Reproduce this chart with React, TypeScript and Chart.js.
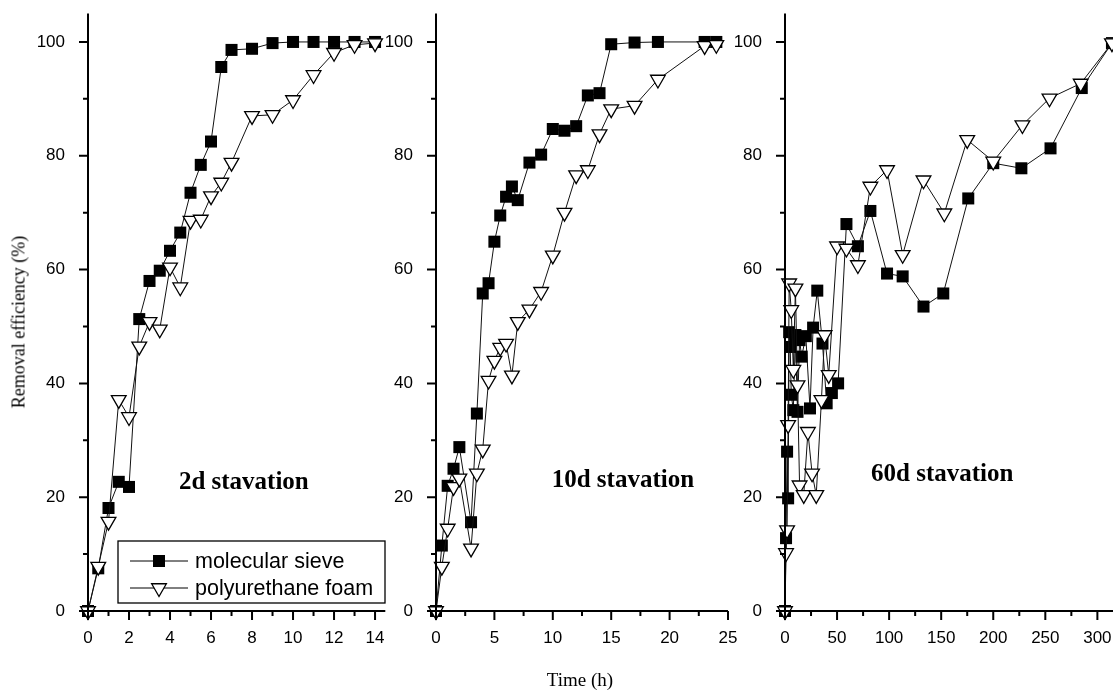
import React, { useEffect, useRef } from "react";
import { Chart, registerables } from "chart.js";

Chart.register(...registerables);

// ---------------- data ----------------
const SERIES_NAMES = ["molecular sieve", "polyurethane foam"];
const PANEL_TITLES = ["2d stavation", "10d stavation", "60d stavation"];

const TIME_2D = [0, 0.5, 1, 1.5, 2, 2.5, 3, 3.5, 4, 4.5, 5, 5.5, 6, 6.5, 7, 8, 9, 10, 11, 12, 13, 14];
const SIEVE_2D = [0, 7.5, 18.1, 22.7, 21.8, 51.3, 58.0, 59.8, 63.3, 66.5, 73.5, 78.4, 82.5, 95.6, 98.6, 98.8, 99.8, 100, 100, 100, 100, 100];
const FOAM_2D = [0, 7.8, 15.7, 37.1, 34.1, 46.5, 50.8, 49.5, 60.4, 56.9, 68.6, 68.8, 72.9, 75.3, 78.8, 87.0, 87.2, 89.8, 94.2, 98.1, 99.5, 99.8];

const TIME_10D = [0, 0.5, 1, 1.5, 2, 3, 3.5, 4, 4.5, 5, 5.5, 6, 6.5, 7, 8, 9, 10, 11, 12, 13, 14, 15, 17, 19, 23, 24];
const SIEVE_10D = [0, 11.5, 22.0, 25.0, 28.8, 15.6, 34.7, 55.8, 57.6, 64.9, 69.5, 72.8, 74.6, 72.2, 78.8, 80.2, 84.7, 84.4, 85.2, 90.6, 91.0, 99.6, 99.9, 100, 100, 100];
const FOAM_10D = [0, 7.8, 14.5, 21.8, 23.3, 11.0, 24.2, 28.4, 40.5, 44.0, 46.3, 47.0, 41.4, 50.8, 53.0, 56.1, 62.5, 70.0, 76.6, 77.5, 83.8, 88.2, 88.8, 93.4, 99.3, 99.5];

const TIME_60D_SIEVE = [0, 1, 2, 3, 4, 5, 6, 8, 10, 12, 14, 16, 20, 24, 27, 31, 36, 40, 45, 51, 59, 70, 82, 98, 113, 133, 152, 176, 200, 227, 255, 285, 314];
const SIEVE_60D = [0, 12.8, 28.0, 19.8, 49.0, 46.4, 38.0, 35.3, 48.5, 35.0, 47.6, 44.7, 48.3, 35.6, 49.8, 56.3, 47.0, 36.5, 38.3, 40.0, 68.0, 64.1, 70.3, 59.3, 58.8, 53.5, 55.8, 72.5, 78.7, 77.8, 81.3, 91.9, 99.8];
const TIME_60D_FOAM = [0, 1, 2, 3, 4, 6, 8, 10, 12, 14, 18, 22, 26, 30, 35, 38, 42, 50, 59, 70, 82, 98, 113, 133, 153, 175, 200, 228, 254, 284, 314];
const FOAM_60D = [0, 10.2, 14.2, 32.7, 57.6, 52.9, 42.4, 56.7, 39.7, 22.1, 20.4, 31.5, 24.2, 20.4, 37.1, 48.5, 41.5, 64.1, 63.7, 60.8, 74.6, 77.5, 62.6, 75.7, 69.9, 82.8, 79.0, 85.4, 90.1, 92.7, 99.8];

const Y_TICKS = [0, 20, 40, 60, 80, 100];
const Y_MINOR = [10, 30, 50, 70, 90];
const X_TICKS_2D = [0, 2, 4, 6, 8, 10, 12, 14];
const X_MINOR_2D = [1, 3, 5, 7, 9, 11, 13];
const X_TICKS_10D = [0, 5, 10, 15, 20, 25];
const X_MINOR_10D = [2.5, 7.5, 12.5, 17.5, 22.5];
const X_TICKS_60D = [0, 50, 100, 150, 200, 250, 300];
const X_MINOR_60D = [25, 75, 125, 175, 225, 275];

// ---------------- panel layout ----------------
const CANVAS_H = 691;
const PANELS = [
  {
    left: 0, width: 400, yW: 88, padRight: 14.7, xMax: 14.5,
    sieveT: TIME_2D, sieve: SIEVE_2D, foamT: TIME_2D, foam: FOAM_2D,
    xTicks: X_TICKS_2D, xMinor: X_MINOR_2D, title: PANEL_TITLES[0], titleAt: [7.6, 22.5], legend: true,
  },
  {
    left: 380, width: 360, yW: 56, padRight: 12, xMax: 25,
    sieveT: TIME_10D, sieve: SIEVE_10D, foamT: TIME_10D, foam: FOAM_10D,
    xTicks: X_TICKS_10D, xMinor: X_MINOR_10D, title: PANEL_TITLES[1], titleAt: [16.0, 23], legend: false,
  },
  {
    left: 730, width: 395, yW: 55, padRight: 12, xMax: 315,
    sieveT: TIME_60D_SIEVE, sieve: SIEVE_60D, foamT: TIME_60D_FOAM, foam: FOAM_60D,
    xTicks: X_TICKS_60D, xMinor: X_MINOR_60D, title: PANEL_TITLES[2], titleAt: [151, 24], legend: false,
  },
];

const TICK_FONT = { family: '"Liberation Sans", Arial, sans-serif', size: 17 };

function drawTriangle(ctx: CanvasRenderingContext2D, cx: number, cy: number, r: number) {
  const w = r * Math.sin(Math.PI / 3);
  ctx.beginPath();
  ctx.moveTo(cx - w, cy - r / 2);
  ctx.lineTo(cx + w, cy - r / 2);
  ctx.lineTo(cx, cy + r);
  ctx.closePath();
  ctx.fillStyle = "#fff";
  ctx.fill();
  ctx.lineWidth = 1.3;
  ctx.strokeStyle = "#000";
  ctx.stroke();
}

function makeDecor(p: any) {
  return {
    id: "decor",
    afterDatasetsDraw(chart: any) {
      const { ctx, chartArea: ca } = chart;
      const xs = chart.scales.x;
      const ys = chart.scales.y;
      ctx.save();
      ctx.strokeStyle = "#000";
      ctx.lineWidth = 2;
      ctx.beginPath();
      ctx.moveTo(ca.left, ca.top);
      ctx.lineTo(ca.left, ca.bottom + 1);
      ctx.moveTo(ca.left - 1, ca.bottom);
      ctx.lineTo(ca.right, ca.bottom);
      for (const v of p.xTicks) {
        const px = xs.getPixelForValue(v);
        ctx.moveTo(px, ca.bottom);
        ctx.lineTo(px, ca.bottom + 9);
      }
      for (const v of p.xMinor) {
        const px = xs.getPixelForValue(v);
        ctx.moveTo(px, ca.bottom);
        ctx.lineTo(px, ca.bottom + 5);
      }
      for (const v of Y_TICKS) {
        const py = ys.getPixelForValue(v);
        ctx.moveTo(ca.left, py);
        ctx.lineTo(ca.left - 9, py);
      }
      for (const v of Y_MINOR) {
        const py = ys.getPixelForValue(v);
        ctx.moveTo(ca.left, py);
        ctx.lineTo(ca.left - 5, py);
      }
      ctx.stroke();

      // panel title
      ctx.fillStyle = "#000";
      ctx.font = 'bold 25px "Liberation Serif", "Times New Roman", serif';
      ctx.textAlign = "center";
      ctx.textBaseline = "middle";
      ctx.fillText(p.title, xs.getPixelForValue(p.titleAt[0]), ys.getPixelForValue(p.titleAt[1]));

      // legend
      if (p.legend) {
        const lx = ca.left + 30;
        const ly = ca.bottom - 70;
        const lw = 267;
        const lh = 62;
        ctx.fillStyle = "#fff";
        ctx.fillRect(lx, ly, lw, lh);
        ctx.lineWidth = 1.3;
        ctx.strokeStyle = "#000";
        ctx.strokeRect(lx, ly, lw, lh);
        const rows = [ly + 20, ly + 47];
        rows.forEach((ry, i) => {
          ctx.beginPath();
          ctx.lineWidth = 1;
          ctx.moveTo(lx + 12, ry);
          ctx.lineTo(lx + 70, ry);
          ctx.stroke();
          const cx = lx + 41;
          if (i === 0) {
            ctx.fillStyle = "#000";
            ctx.fillRect(cx - 6, ry - 6, 12, 12);
          } else {
            drawTriangle(ctx, cx, ry, 8.5);
          }
          ctx.fillStyle = "#000";
          ctx.font = '21.5px "Liberation Sans", Arial, sans-serif';
          ctx.textAlign = "left";
          ctx.textBaseline = "middle";
          ctx.fillText(SERIES_NAMES[i], lx + 77, ry + 1);
        });
      }
      ctx.restore();
    },
  };
}

function Panel({ p }: { p: any }) {
  const ref = useRef<HTMLCanvasElement | null>(null);
  useEffect(() => {
    if (!ref.current) return;
    const chart = new Chart(ref.current, {
      type: "line",
      data: {
        datasets: [
          {
            label: SERIES_NAMES[1],
            data: p.foamT.map((t: number, i: number) => ({ x: t, y: p.foam[i] })),
            borderColor: "#111",
            borderWidth: 1,
            pointStyle: "triangle",
            rotation: 180,
            pointRadius: 8.5,
            pointBackgroundColor: "#fff",
            pointBorderColor: "#000",
            pointBorderWidth: 1.3,
            tension: 0,
            clip: false,
          } as any,
          {
            label: SERIES_NAMES[0],
            data: p.sieveT.map((t: number, i: number) => ({ x: t, y: p.sieve[i] })),
            borderColor: "#111",
            borderWidth: 1,
            pointStyle: "rect",
            pointRadius: 8.5,
            pointBackgroundColor: "#000",
            pointBorderColor: "#000",
            pointBorderWidth: 0,
            tension: 0,
            clip: false,
          } as any,
        ],
      },
      options: {
        responsive: false,
        animation: false,
        events: [],
        layout: { padding: { left: 0, right: p.padRight, top: 13.5, bottom: 40 } },
        plugins: { legend: { display: false }, tooltip: { enabled: false } },
        scales: {
          x: {
            type: "linear",
            min: 0,
            max: p.xMax,
            grid: { display: false },
            border: { display: false },
            ticks: { font: TICK_FONT, color: "#000", padding: 9, autoSkip: false, maxRotation: 0 },
            afterBuildTicks: (s: any) => {
              s.ticks = p.xTicks.map((v: number) => ({ value: v }));
            },
            afterFit: (s: any) => {
              s.height = 40;
              s.paddingLeft = 0;
              s.paddingRight = 0;
              s.paddingTop = 0;
              s.paddingBottom = 0;
            },
          },
          y: {
            type: "linear",
            min: 0,
            max: 105,
            grid: { display: false },
            border: { display: false },
            ticks: { font: TICK_FONT, color: "#000", padding: 15, autoSkip: false },
            afterBuildTicks: (s: any) => {
              s.ticks = Y_TICKS.map((v) => ({ value: v }));
            },
            afterFit: (s: any) => {
              s.width = p.yW;
              s.paddingTop = 0;
              s.paddingBottom = 0;
              s.paddingLeft = 0;
              s.paddingRight = 0;
            },
          },
        },
      } as any,
      plugins: [makeDecor(p)],
    });
    return () => chart.destroy();
  }, [p]);
  return (
    <canvas
      ref={ref}
      width={p.width}
      height={CANVAS_H}
      style={{ position: "absolute", left: p.left, top: 0, width: p.width, height: CANVAS_H }}
    />
  );
}

export default function App() {
  return (
    <div
      style={{
        position: "fixed",
        left: 0,
        top: 0,
        width: 1113,
        height: 691,
        overflow: "hidden",
        background: "#fff",
      }}
    >
      {PANELS.map((p, i) => (
        <Panel key={i} p={p} />
      ))}
      <div
        style={{
          position: "absolute",
          left: 19,
          top: 322,
          transform: "translate(-50%, -50%) rotate(-90deg)",
          whiteSpace: "nowrap",
          font: '18px "Liberation Serif", "Times New Roman", serif',
          color: "#000",
        }}
      >
        Removal efficiency (%)
      </div>
      <div
        style={{
          position: "absolute",
          left: 580,
          top: 680,
          transform: "translate(-50%, -50%)",
          whiteSpace: "nowrap",
          font: '19px "Liberation Serif", "Times New Roman", serif',
          color: "#000",
        }}
      >
        Time (h)
      </div>
    </div>
  );
}
